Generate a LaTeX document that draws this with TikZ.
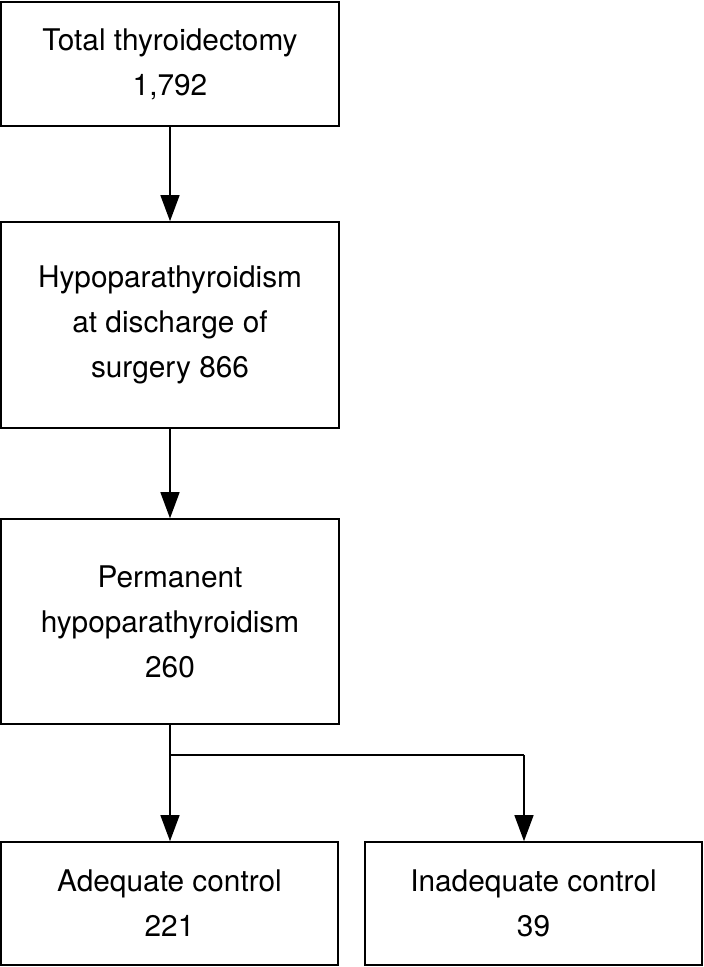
\documentclass[tikz,border=0pt]{standalone}
\usepackage{fontspec}
\setmainfont{TeX Gyre Heros}
\usetikzlibrary{arrows.meta}
\begin{document}
\begin{tikzpicture}[x=1pt,y=-1pt,
  box/.style={draw,line width=1.6pt,minimum width=338pt,inner sep=0pt,align=center,
    font=\fontsize{29.8}{45}\selectfont},
  conn/.style={line width=1.3pt,-{Triangle[width=19pt,length=26pt]}},
  seg/.style={line width=1.3pt}]
\useasboundingbox (0,0) rectangle (704,967);
\node[box,minimum height=124pt] (b1) at (170,64) {Total thyroidectomy\\1,792};
\node[box,minimum height=206pt] (b2) at (170,325) {Hypoparathyroidism\\at discharge of\\surgery 866};
\node[box,minimum height=205pt] (b3) at (170,621.5) {Permanent\\hypoparathyroidism\\260};
\node[box,minimum height=123pt,minimum width=337pt] (b4) at (169.5,903.5) {Adequate control\\221};
\node[box,minimum height=123pt,minimum width=337pt] (b5) at (533.5,903.5) {Inadequate control\\39};
\coordinate (j) at (170,755);
\coordinate (k) at (524,755);
\draw[conn] (b1.south) -- (b2.north);
\draw[conn] (b2.south) -- (b3.north);
\draw[conn] (b3.south) -- (b3.south |- b4.north);
\draw[seg] (j) -- (k);
\draw[conn] (k) -- (k |- b5.north);
\end{tikzpicture}
\end{document}
